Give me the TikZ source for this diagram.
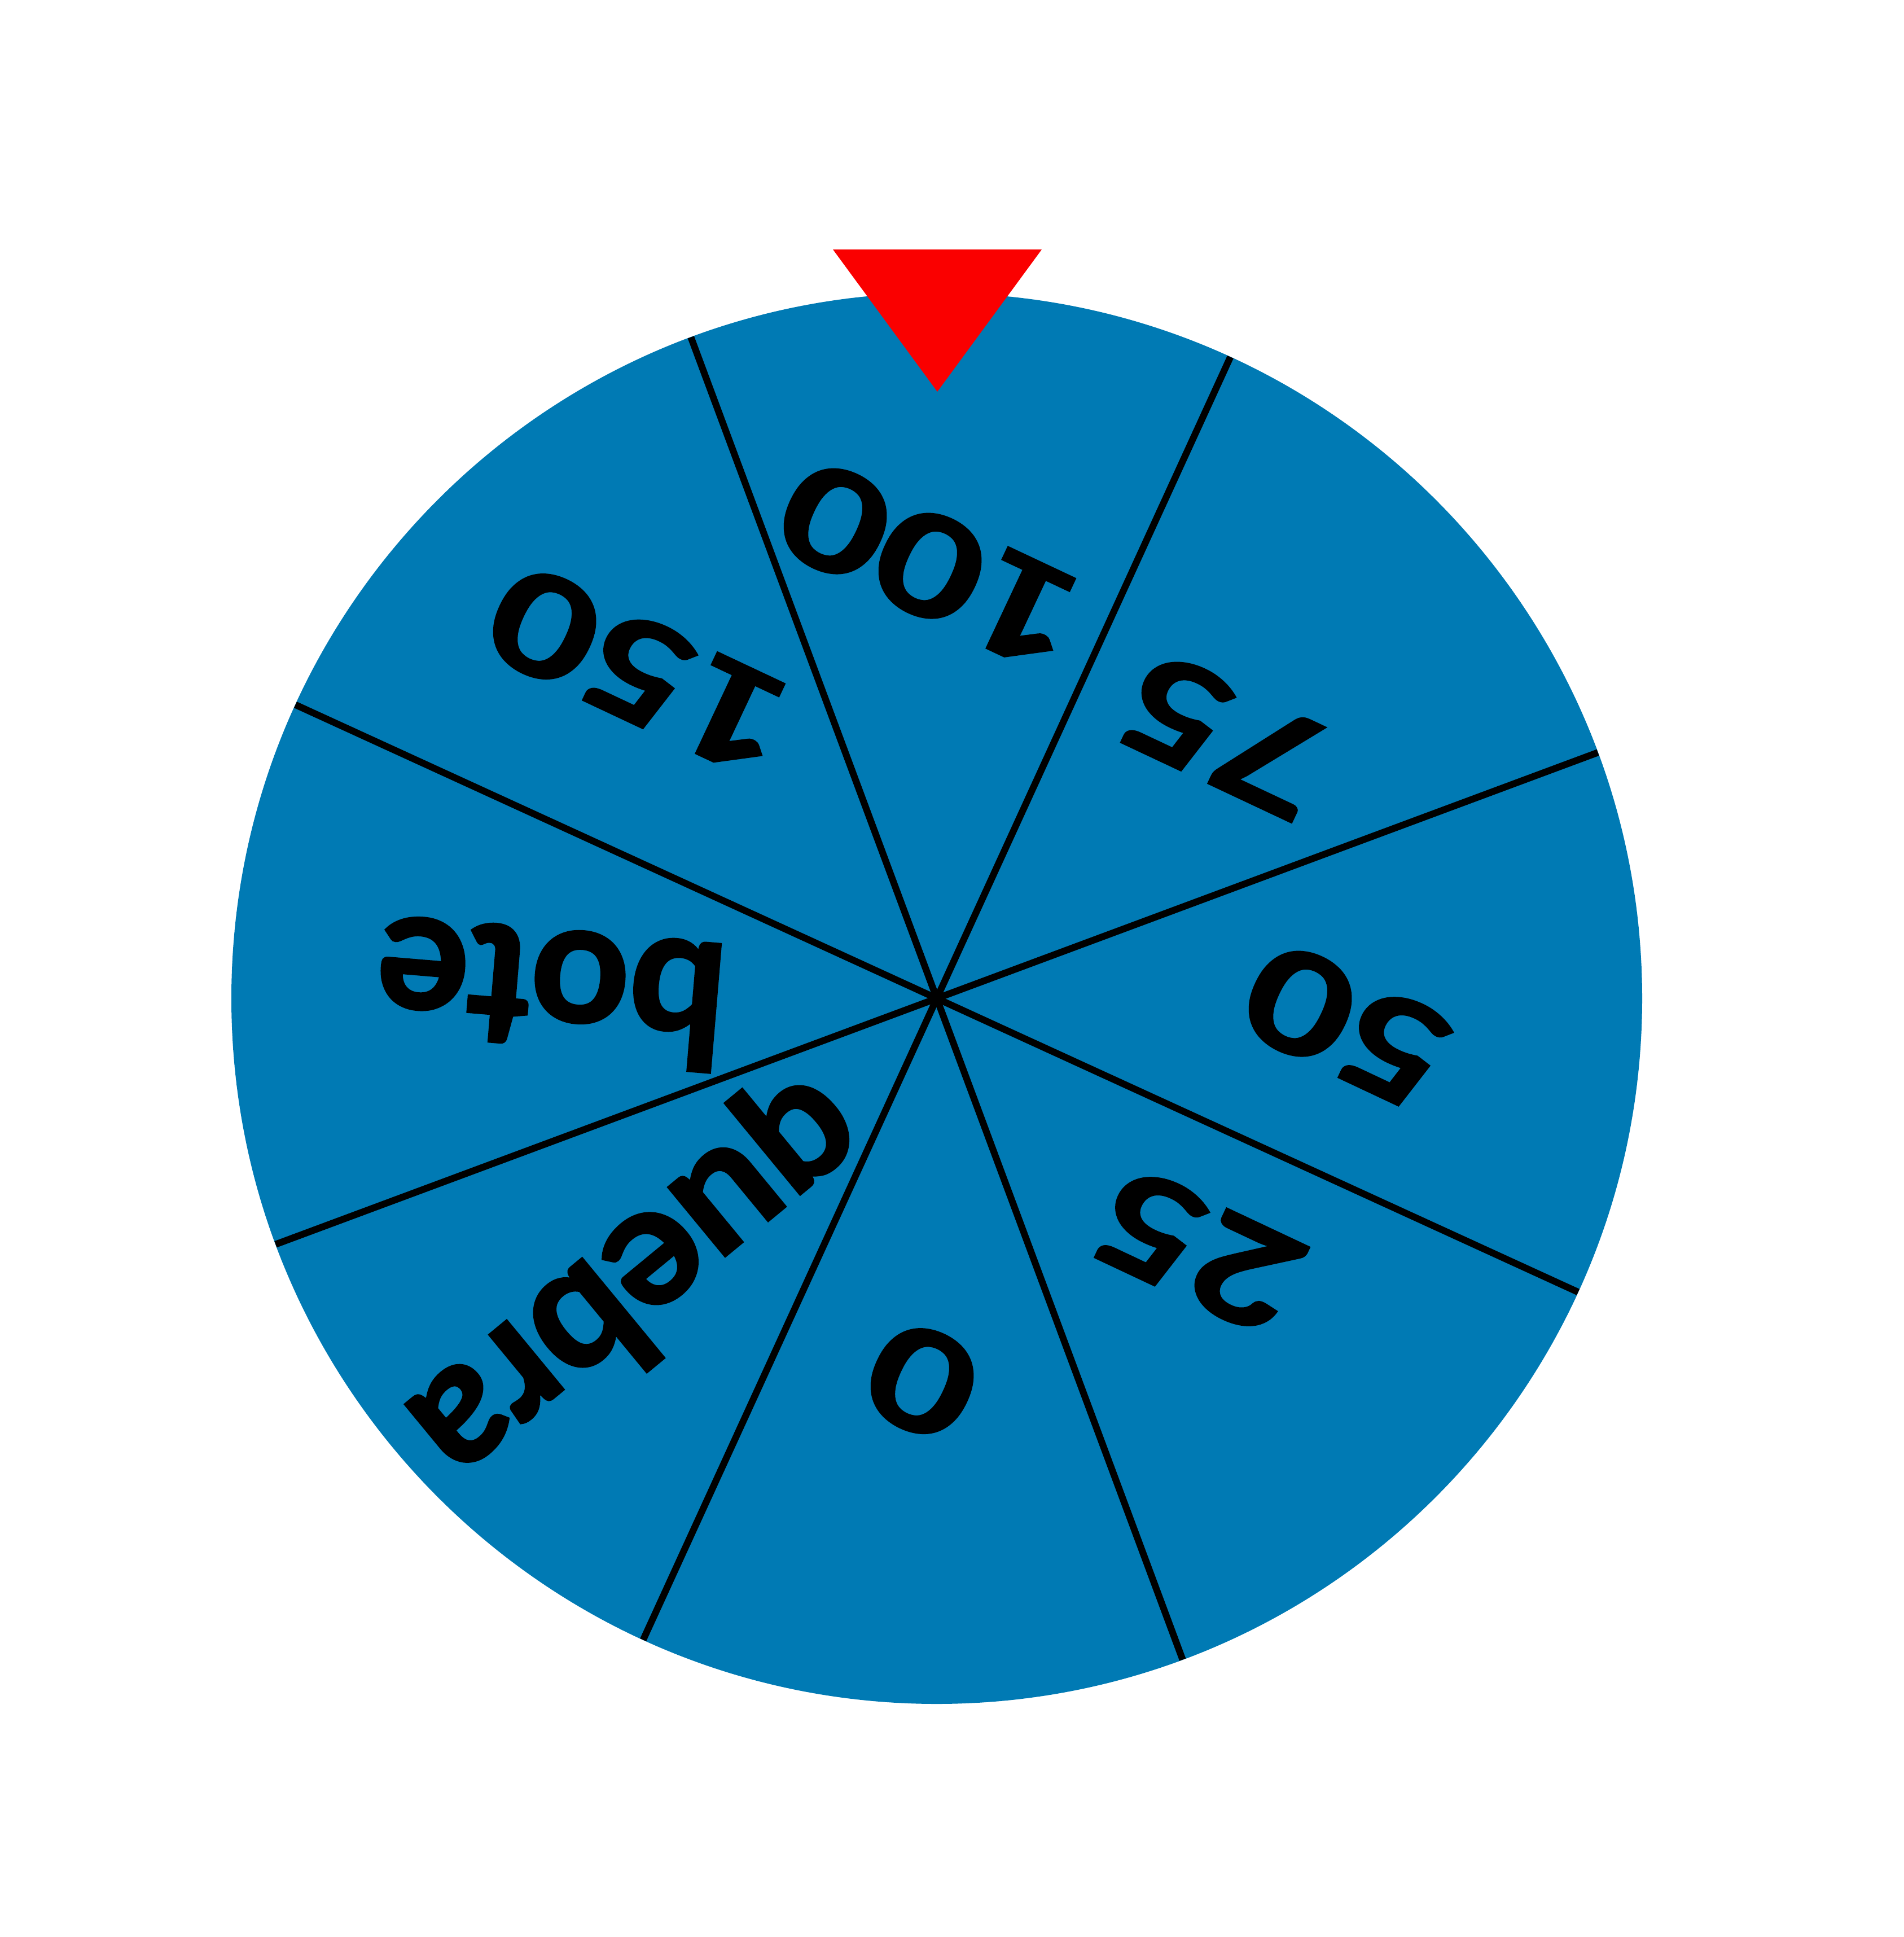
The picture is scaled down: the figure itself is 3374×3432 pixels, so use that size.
\documentclass[tikz,border=0pt]{standalone}
\usepackage{fontspec}
\newfontfamily\labfont{Lato}[BoldFeatures={FakeBold=2}]
\definecolor{wheelblue}{RGB}{0,122,180}
\definecolor{pointerred}{RGB}{250,0,0}
\begin{document}
\begin{tikzpicture}[x=1pt,y=1pt,
  numlab/.style={font=\labfont\bfseries\fontsize{100}{100}\selectfont, inner sep=0pt, transform shape, xscale=3.2, yscale=2.44},
  wordlab/.style={font=\labfont\bfseries\fontsize{100}{100}\selectfont, inner sep=0pt, transform shape, scale=3.05},
  spoke/.style={line width=12pt, draw=black}]
\useasboundingbox (0,0) rectangle (3374,-3432);
\coordinate (C) at (1660,-1769);
\fill[wheelblue] (C) circle[radius=1250pt];
\foreach \a in {20.4,65.4,110.4,155.4}
  \draw[spoke] ([shift={(\a:1250pt)}]C) -- ([shift={(\a+180:1250pt)}]C);
\begin{scope}[shift={(1648,-1002.5)}]\node[rotate=154.8,numlab] (l100) at (0,0) {100};\end{scope}
\begin{scope}[shift={(2171,-1302.5)}]\node[rotate=154.8,numlab] (l75) at (0,0) {75};\end{scope}
\begin{scope}[shift={(2388,-1818)}]\node[rotate=154.8,numlab] (l50) at (0,0) {50};\end{scope}
\begin{scope}[shift={(2124,-2216)}]\node[rotate=154.8,numlab] (l25) at (0,0) {25};\end{scope}
\begin{scope}[shift={(1634,-2447)}]\node[rotate=154.8,numlab] (l0) at (0,0) {0};\end{scope}
\begin{scope}[shift={(1133,-1189)}]\node[rotate=154.8,numlab] (l150) at (0,0) {150};\end{scope}
\begin{scope}[shift={(976,-1761)}]\node[rotate=175.2,wordlab] (lbote) at (0,0) {bote};\end{scope}
\begin{scope}[shift={(1128,-2265)}]\node[rotate=219.5,wordlab] (lquebra) at (0,0) {quebra};\end{scope}
\fill[pointerred] (1476,-442) -- (1846,-442) -- (1661,-694) -- cycle;
\end{tikzpicture}
\end{document}
